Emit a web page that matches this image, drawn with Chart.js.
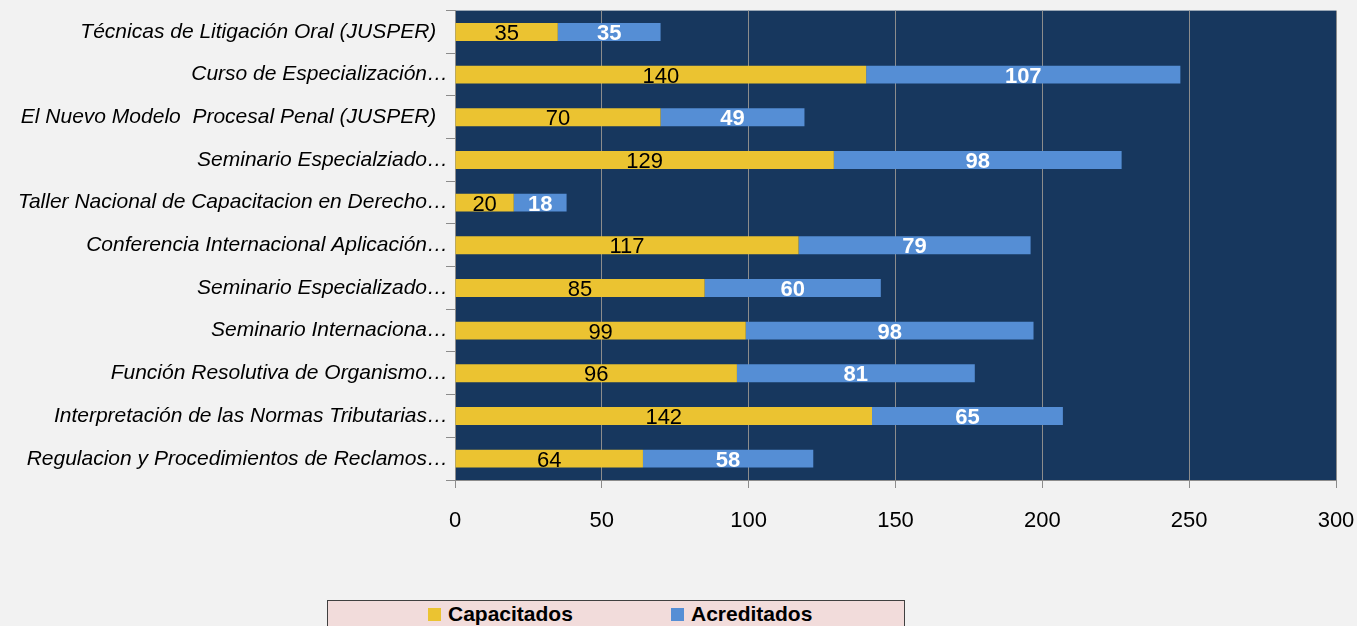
<!doctype html>
<html lang="es">
<head>
<meta charset="utf-8">
<title>Capacitados y Acreditados</title>
<script src="https://cdn.jsdelivr.net/npm/chart.js@4/dist/chart.umd.min.js"></script>
<style>
  html, body { margin: 0; padding: 0; background: #f2f2f2; }
  #wrap { position: relative; width: 1357px; height: 626px; overflow: hidden; }
  #legend {
    position: absolute; left: 327px; top: 600px; width: 576px; height: 40px;
    background: #f2dcdb; border: 1px solid #404040;
    font-family: "Liberation Sans", sans-serif; font-size: 21px; font-weight: bold;
  }
  #legend span.item { position: absolute; top: 1px; white-space: nowrap; }
  #legend span.box { display: inline-block; width: 13px; height: 13px; margin-right: 7px; vertical-align: 0px; }
</style>
</head>
<body>
<div id="wrap">
  <canvas id="chart" width="1357" height="626"></canvas>
  <div id="legend"></div>
</div>
<script>
var categories = [
  "Técnicas de Litigación Oral (JUSPER)  ",
  "Curso de Especialización…",
  "El Nuevo Modelo  Procesal Penal (JUSPER)  ",
  "Seminario Especialziado…",
  "Taller Nacional de Capacitacion en Derecho…",
  "Conferencia Internacional Aplicación…",
  "Seminario Especializado…",
  "Seminario Internaciona…",
  "Función Resolutiva de Organismo…",
  "Interpretación de las Normas Tributarias…",
  "Regulacion y Procedimientos de Reclamos…"
];
var capacitados = [35, 140, 70, 129, 20, 117, 85, 99, 96, 142, 64];
var acreditados = [35, 107, 49, 98, 18, 79, 60, 98, 81, 65, 58];
var seriesNames = ["Capacitados", "Acreditados"];
var seriesColors = ["#ebc331", "#558ed5"];
var labelColors = ["#000000", "#ffffff"];
var xTicks = [0, 50, 100, 150, 200, 250, 300];

// etiquetas de valor centradas en cada segmento
var valueLabels = {
  id: 'valueLabels',
  afterDatasetsDraw: function (chart) {
    var ctx = chart.ctx;
    ctx.save();
    ctx.textAlign = 'center';
    ctx.textBaseline = 'middle';
    chart.data.datasets.forEach(function (ds, di) {
      var meta = chart.getDatasetMeta(di);
      ctx.fillStyle = labelColors[di];
      ctx.font = (di === 1 ? 'bold ' : '') + '22px "Liberation Sans", sans-serif';
      meta.data.forEach(function (bar, i) {
        var cx = (bar.x + bar.base) / 2;
        ctx.fillText(String(ds.data[i]), cx, bar.y + 2);
      });
    });
    ctx.restore();
  }
};

// fondo azul del area de trazado
var plotBg = {
  id: 'plotBg',
  beforeDraw: function (chart) {
    var a = chart.chartArea, ctx = chart.ctx;
    ctx.save();
    ctx.fillStyle = '#17375e';
    ctx.fillRect(a.left, a.top, a.right - a.left, a.bottom - a.top);
    ctx.restore();
  }
};

new Chart(document.getElementById('chart'), {
  type: 'bar',
  data: {
    labels: categories,
    datasets: [
      { label: seriesNames[0], data: capacitados, backgroundColor: seriesColors[0], barPercentage: 0.42, categoryPercentage: 1 },
      { label: seriesNames[1], data: acreditados, backgroundColor: seriesColors[1], barPercentage: 0.42, categoryPercentage: 1 }
    ]
  },
  options: {
    indexAxis: 'y',
    responsive: false,
    animation: false,
    layout: { padding: { top: 6, right: 21 } },
    plugins: { legend: { display: false }, tooltip: { enabled: false } },
    scales: {
      x: {
        stacked: true, min: 0, max: 300,
        afterBuildTicks: function (s) { s.ticks = xTicks.map(function (v) { return { value: v }; }); },
        afterFit: function (s) { s.height = 146; s.paddingRight = 0; s.paddingLeft = 0; },
        grid: { color: '#8c8c8c', lineWidth: 1, tickLength: 8, tickColor: '#8c8c8c' },
        border: { color: '#8c8c8c' },
        ticks: { color: '#000', padding: 20, font: { family: '"Liberation Sans", sans-serif', size: 22 } }
      },
      y: {
        stacked: true,
        afterFit: function (s) { s.width = 455; },
        grid: { drawOnChartArea: false, offset: true, tickLength: 9, tickColor: '#8c8c8c' },
        border: { color: '#8c8c8c' },
        ticks: { color: '#000', padding: -2, font: { family: '"Liberation Sans", sans-serif', size: 21, style: 'italic' } }
      }
    }
  },
  plugins: [plotBg, valueLabels]
});

// leyenda
var legend = document.getElementById('legend');
var legendX = [100, 343];
seriesNames.forEach(function (n, i) {
  var it = document.createElement('span');
  it.className = 'item';
  it.style.left = legendX[i] + 'px';
  it.innerHTML = '<span class="box" style="background:' + seriesColors[i] + '"></span>' + n;
  legend.appendChild(it);
});
</script>
</body>
</html>
